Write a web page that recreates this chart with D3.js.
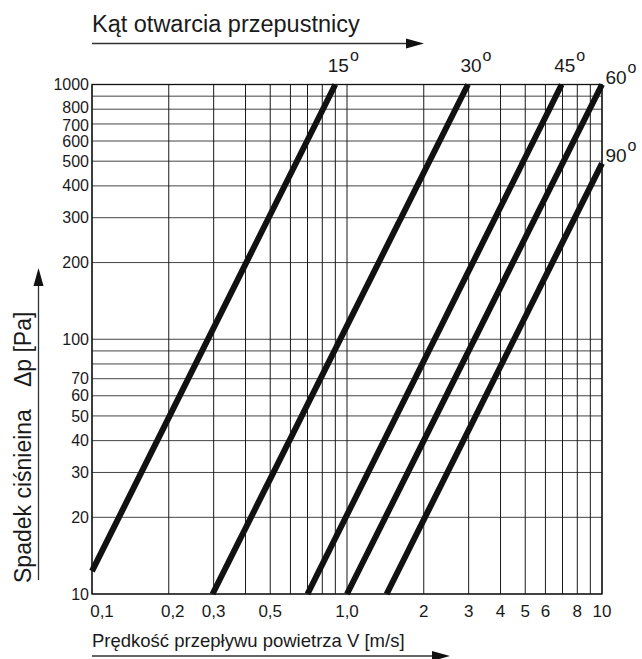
<!DOCTYPE html>
<html>
<head>
<meta charset="utf-8">
<script src="https://cdn.jsdelivr.net/npm/d3@7"></script>
<style>
  body { margin: 0; background: #fff; }
  text { font-family: "Liberation Sans", Arial, sans-serif; fill: #1a1a1a; }
</style>
</head>
<body>
<div id="chart"></div>
<script>
// wartości
const gridV = [0.1, 0.2, 0.3, 0.4, 0.5, 0.6, 0.7, 0.8, 0.9, 1, 2, 3, 4, 5, 6, 7, 8, 9, 10];
const gridP = [10, 20, 30, 40, 50, 60, 70, 80, 90, 100, 200, 300, 400, 500, 600, 700, 800, 900, 1000];
const tickV = [0.1, 0.2, 0.3, 0.5, 1, 2, 3, 4, 5, 6, 8, 10];
const tickVLabels = ["0,1", "0,2", "0,3", "0,5", "1,0", "2", "3", "4", "5", "6", "8", "10"];
const tickP = [10, 20, 30, 40, 50, 60, 70, 100, 200, 300, 400, 500, 600, 700, 800, 1000];

const angles = ["15", "30", "45", "60", "90"];
// [V, dp] początek i koniec każdej linii
const line15 = [[0.1, 12.3], [0.9, 1000]];
const line30 = [[0.297, 10], [2.98, 1000]];
const line45 = [[0.7, 10], [6.95, 1000]];
const line60 = [[1.0, 10], [10, 1000]];
const line90 = [[1.43, 10], [10, 490]];
const lines = [line15, line30, line45, line60, line90];

const width = 642;
const height = 659;
const mLeft = 92, mRight = 602, mTop = 84.5, mBottom = 594;

const svg = d3.select("#chart")
  .append("svg")
  .attr("width", width)
  .attr("height", height);

const x = d3.scaleLog().domain([0.1, 10]).range([mLeft, mRight]);
const y = d3.scaleLog().domain([10, 1000]).range([mBottom, mTop]);

// siatka
svg.append("g")
  .selectAll("line")
  .data(gridP)
  .enter()
  .append("line")
  .attr("x1", mLeft)
  .attr("x2", mRight)
  .attr("y1", (d) => y(d))
  .attr("y2", (d) => y(d))
  .attr("stroke", "#444")
  .attr("stroke-width", 1);

svg.append("g")
  .selectAll("line")
  .data(gridV)
  .enter()
  .append("line")
  .attr("x1", (d) => x(d))
  .attr("x2", (d) => x(d))
  .attr("y1", mTop)
  .attr("y2", mBottom)
  .attr("stroke", "#1a1a1a")
  .attr("stroke-width", 1);

svg.append("rect")
  .attr("x", mLeft)
  .attr("y", mTop)
  .attr("width", mRight - mLeft)
  .attr("height", mBottom - mTop)
  .attr("fill", "none")
  .attr("stroke", "#111")
  .attr("stroke-width", 1.3);

// opisy osi (800 i 700 lekko rozsunięte, jak w oryginale)
const nudge = { 800: -2, 700: 1 };

svg.append("g")
  .selectAll("text")
  .data(tickP)
  .enter()
  .append("text")
  .attr("x", mLeft - 3)
  .attr("y", (d) => y(d) + (nudge[d] || 0))
  .attr("dy", "0.35em")
  .attr("text-anchor", "end")
  .style("font-size", "16px")
  .text((d) => d);

svg.append("g")
  .selectAll("text")
  .data(tickV)
  .enter()
  .append("text")
  .attr("x", (d, i) => x(d) + (i === 0 ? 10 : i === 1 ? 4 : 0))
  .attr("y", mBottom + 17)
  .attr("dy", "0.35em")
  .attr("text-anchor", "middle")
  .style("font-size", "17px")
  .text((d, i) => tickVLabels[i]);

// linie charakterystyk
const lineGen = d3.line()
  .x((d) => x(d[0]))
  .y((d) => y(d[1]));

svg.append("g")
  .selectAll("path")
  .data(lines)
  .enter()
  .append("path")
  .attr("d", lineGen)
  .attr("fill", "none")
  .attr("stroke", "#111")
  .attr("stroke-width", 6);

// kąty
const atTop = (d) => d[1][1] >= 1000 && d[1][0] < 10;

const angleLabels = svg.append("g")
  .selectAll("text")
  .data(lines)
  .enter()
  .append("text")
  .attr("x", (d) => atTop(d) ? x(d[1][0]) + 8 : x(d[1][0]) + 19)
  .attr("y", (d) => atTop(d) ? y(d[1][1]) - 13 : y(d[1][1]) - 1)
  .attr("text-anchor", "middle")
  .style("font-size", "19px");

angleLabels.append("tspan").text((d, i) => angles[i]);
angleLabels.append("tspan")
  .attr("dy", -11)
  .attr("dx", 1)
  .style("font-size", "16px")
  .text("o");

// tytuły i strzałki
svg.append("text")
  .attr("x", mLeft)
  .attr("y", 32)
  .style("font-size", "23.5px")
  .text("Kąt otwarcia przepustnicy");

svg.append("text")
  .attr("x", mLeft)
  .attr("y", 647)
  .style("font-size", "18.5px")
  .text("Prędkość przepływu powietrza V [m/s]");

svg.append("text")
  .attr("transform", "translate(31,583) rotate(-90)")
  .style("font-size", "23px")
  .text("Spadek ciśnieina")
  .append("tspan")
  .attr("dx", 22)
  .text("Δp [Pa]");

function arrow(x1, y1, x2, y2) {
  const a = Math.atan2(y2 - y1, x2 - x1);
  const len = 18, half = 5;
  const bx = x2 - len * Math.cos(a), by = y2 - len * Math.sin(a);
  svg.append("line")
    .attr("x1", x1).attr("y1", y1)
    .attr("x2", bx).attr("y2", by)
    .attr("stroke", "#333")
    .attr("stroke-width", 1.3);
  svg.append("path")
    .attr("d", d3.line()([
      [x2, y2],
      [bx - half * Math.sin(a), by + half * Math.cos(a)],
      [bx + half * Math.sin(a), by - half * Math.cos(a)]
    ]) + "Z")
    .attr("fill", "#111");
}

arrow(mLeft, 43.5, 424, 43.5);
arrow(mLeft, 656, 450, 656);
arrow(38.5, 580, 38.5, 268);
</script>
</body>
</html>
